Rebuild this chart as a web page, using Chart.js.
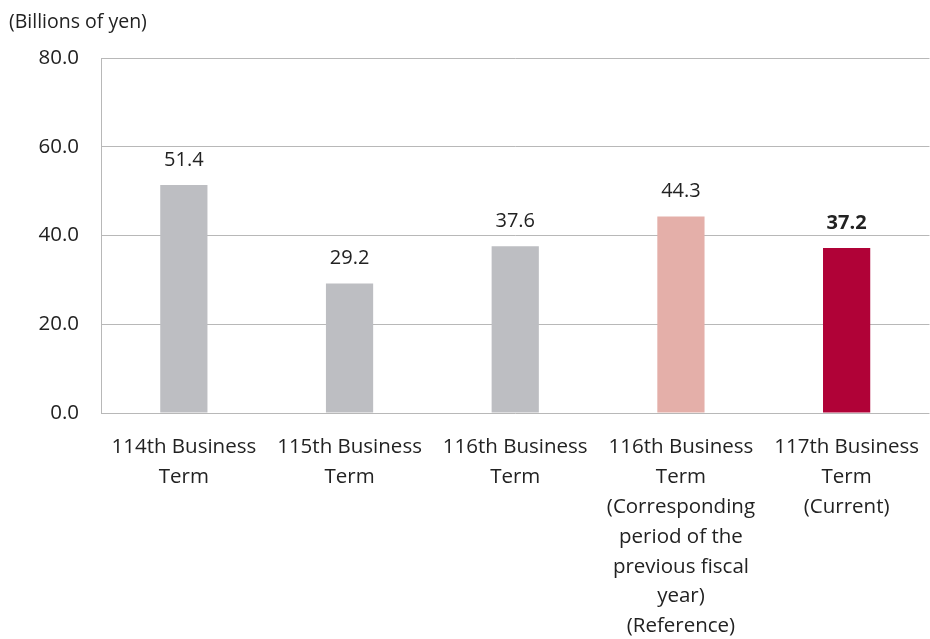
<!DOCTYPE html>
<html lang="en">
  <head>
    <meta charset="UTF-8" />
    <title>Business term chart</title>
    <style>
      * {
        margin: 0;
        padding: 0;
        box-sizing: border-box;
      }
      body {
        background-color: #ffffff;
      }
    </style>
  </head>
  <body>
    <canvas id="chart" width="930" height="639"></canvas>

    <script src="https://cdn.jsdelivr.net/npm/chart.js"></script>
    <script>
      const categories = [
        ["114th Business", "Term"],
        ["115th Business", "Term"],
        ["116th Business", "Term"],
        ["116th Business", "Term", "(Corresponding", "period of the", "previous fiscal", "year)", "(Reference)"],
        ["117th Business", "Term", "(Current)"],
      ];
      const values = [51.4, 29.2, 37.6, 44.3, 37.2];
      const barColors = ["#bdbec2", "#bdbec2", "#bdbec2", "#e4afa9", "#b00237"];
      const yTicks = [0, 20, 40, 60, 80];

      const fontFamily = "'Open Sans', sans-serif";

      // value labels above bars, last one bold
      const valueLabels = {
        id: "valueLabels",
        afterDatasetsDraw(chart) {
          const ctx = chart.ctx;
          const meta = chart.getDatasetMeta(0);
          ctx.save();
          ctx.fillStyle = "#222";
          ctx.textAlign = "center";
          ctx.textBaseline = "middle";
          meta.data.forEach((bar, i) => {
            const bold = i === values.length - 1 ? "bold " : "";
            ctx.font = bold + "20px " + fontFamily;
            ctx.fillText(values[i].toFixed(1), bar.x, bar.y - 25);
          });
          ctx.restore();
        },
      };

      // unit caption top-left
      const unitCaption = {
        id: "unitCaption",
        afterDraw(chart) {
          const ctx = chart.ctx;
          ctx.save();
          ctx.fillStyle = "#222";
          ctx.font = "19.5px " + fontFamily;
          ctx.textAlign = "left";
          ctx.textBaseline = "middle";
          ctx.fillText("(Billions of yen)", 9, 22);
          ctx.restore();
        },
      };

      const chart = new Chart(document.getElementById("chart").getContext("2d"), {
        type: "bar",
        data: {
          labels: categories,
          datasets: [
            {
              data: values,
              backgroundColor: barColors,
              barPercentage: 0.57,
              categoryPercentage: 0.5,
            },
          ],
        },
        options: {
          responsive: false,
          animation: false,
          layout: { padding: { top: 58, right: -6, bottom: 0, left: 0 } },
          plugins: {
            legend: { display: false },
            tooltip: { enabled: false },
          },
          scales: {
            x: {
              grid: { display: false },
              border: { display: false },
              ticks: {
                color: "#222",
                font: { family: fontFamily, size: 20.5, lineHeight: 1.46 },
                padding: 11,
                maxRotation: 0,
                autoSkip: false,
              },
              afterFit(scale) {
                scale.height = 226;
              },
            },
            y: {
              min: 0,
              max: 80,
              afterBuildTicks(scale) {
                scale.ticks = yTicks.map((v) => ({ value: v }));
              },
              grid: { color: "#b8b8b8", lineWidth: 1, drawTicks: false },
              border: { display: true, color: "#b8b8b8" },
              ticks: {
                color: "#222",
                font: { family: fontFamily, size: 20.5 },
                padding: 22,
                callback: (v) => Number(v).toFixed(1),
              },
              afterFit(scale) {
                scale.width = 101;
              },
            },
          },
        },
        plugins: [valueLabels, unitCaption],
      });
    </script>
  </body>
</html>
